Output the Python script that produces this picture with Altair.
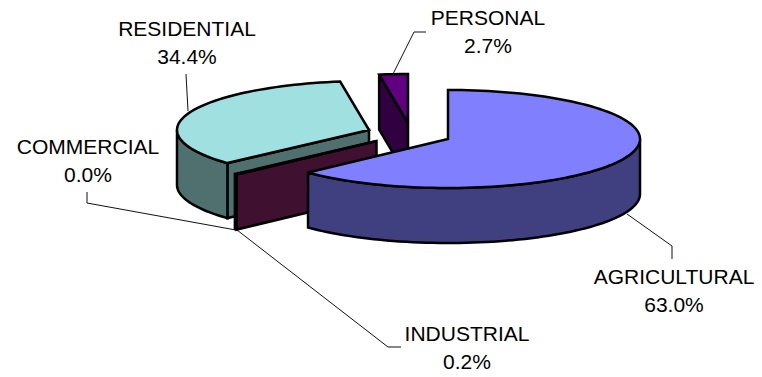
import math
import altair as alt

# Sector shares in percent, clockwise from twelve o'clock
sectors = ["AGRICULTURAL", "COMMERCIAL", "INDUSTRIAL", "RESIDENTIAL", "PERSONAL"]
shares = [63.0, 0.0, 0.2, 34.4, 2.7]
label_text = ["63.0%", "0.0%", "0.2%", "34.4%", "2.7%"]
top_colors = ["#8080FF", "#993366", "#802060", "#A0E0E0", "#600080"]
side_colors = ["#404080", "#4D1A33", "#401030", "#507070", "#300040"]

W, H = 762, 377
RX, RY, DEPTH = 192, 49, 55

# Where each wedge's apex sits once the pie has been pulled apart
apex = {
    "AGRICULTURAL": (448, 139),
    "INDUSTRIAL": (376.5, 141),
    "RESIDENTIAL": (369, 130),
    "PERSONAL": (408, 123),
}
draw_order = ["PERSONAL", "RESIDENTIAL", "INDUSTRIAL", "AGRICULTURAL"]

label_pos = {
    "AGRICULTURAL": (674, 278),
    "COMMERCIAL": (88, 148),
    "INDUSTRIAL": (467, 335),
    "RESIDENTIAL": (187, 30),
    "PERSONAL": (488, 19),
}
LINE_GAP = 28

leaders = {
    "AGRICULTURAL": [(627, 214), (672, 246), (672, 259)],
    "COMMERCIAL": [(87, 192), (87, 203), (236, 230)],
    "INDUSTRIAL": [(237, 230), (388, 347), (401, 347)],
    "RESIDENTIAL": [(186, 74), (188, 111)],
    "PERSONAL": [(393, 74), (414, 32), (426, 32)],
}

# Angular span of each wedge, from the running total of the shares
spans = {}
running = 0.0
for name, share in zip(sectors, shares):
    start = running
    running = min(running + share, 100.0)
    spans[name] = (start * 3.6, running * 3.6)


def rim(cx, cy, deg, drop=0.0):
    t = math.radians(deg)
    return (cx + RX * math.sin(t), cy - RY * math.cos(t) + drop)


def arc(cx, cy, t0, t1, drop=0.0):
    n = max(2, int(abs(t1 - t0) / 2) + 1)
    return [rim(cx, cy, t0 + (t1 - t0) * i / (n - 1), drop) for i in range(n)]


def polygon(points, fill):
    ring = [list(p) for p in points] + [list(points[0])]
    return {
        "type": "Feature",
        "geometry": {"type": "Polygon", "coordinates": [ring]},
        "properties": {"fill": fill},
    }


features = []
for name in draw_order:
    i = sectors.index(name)
    cx, cy = apex[name]
    t0, t1 = spans[name]
    top, side = top_colors[i], side_colors[i]

    # Near cut face, visible when the wedge's closing edge points toward the viewer
    if name in ("PERSONAL", "RESIDENTIAL", "INDUSTRIAL"):
        a = rim(cx, cy, t0)
        features.append(polygon([a, (cx, cy), (cx, cy + DEPTH), (a[0], a[1] + DEPTH)], side))

    # Outer wall: only the front half of the rim can be seen
    v0, v1 = max(t0, 90.0), min(t1, 270.0)
    if v1 > v0:
        upper = arc(cx, cy, v0, v1)
        lower = arc(cx, cy, v1, v0, DEPTH)
        features.append(polygon(upper + lower, side))

    # Top face
    features.append(polygon([(cx, cy)] + arc(cx, cy, t0, t1), top))

wedges = (
    alt.Chart(
        alt.InlineData(
            values={"type": "FeatureCollection", "features": features},
            format=alt.DataFormat(type="json", property="features"),
        )
    )
    .mark_geoshape(stroke="black", strokeWidth=2.5, strokeJoin="miter", strokeMiterLimit=2)
    .encode(color=alt.Color("properties.fill:N", scale=None, legend=None))
    .project(type="identity", scale=1, translate=[0, 0])
)

leader_rows = [
    {"sector": name, "step": k, "px": p[0], "py": p[1]}
    for name, pts in leaders.items()
    for k, p in enumerate(pts)
]
leader_lines = (
    alt.Chart(alt.Data(values=leader_rows))
    .mark_line(color="#111111", strokeWidth=1)
    .encode(
        x=alt.X("px:Q", scale=None, axis=None),
        y=alt.Y("py:Q", scale=None, axis=None),
        detail="sector:N",
        order="step:Q",
    )
)

text_rows = []
for name, pct in zip(sectors, label_text):
    lx, ly = label_pos[name]
    text_rows.append({"t": name, "px": lx, "py": ly})
    text_rows.append({"t": pct, "px": lx, "py": ly + LINE_GAP})

labels = (
    alt.Chart(alt.Data(values=text_rows))
    .mark_text(font="Liberation Sans", fontSize=21, color="black", align="center", baseline="middle")
    .encode(
        x=alt.X("px:Q", scale=None, axis=None),
        y=alt.Y("py:Q", scale=None, axis=None),
        text="t:N",
    )
)

chart = (
    alt.layer(wedges, leader_lines, labels)
    .properties(
        width=W,
        height=H,
        padding=0,
        background="white",
        autosize=alt.AutoSizeParams(type="none"),
    )
    .configure_view(stroke=None)
)

chart.save("out.html", embed_options={"renderer": "svg", "actions": False})
